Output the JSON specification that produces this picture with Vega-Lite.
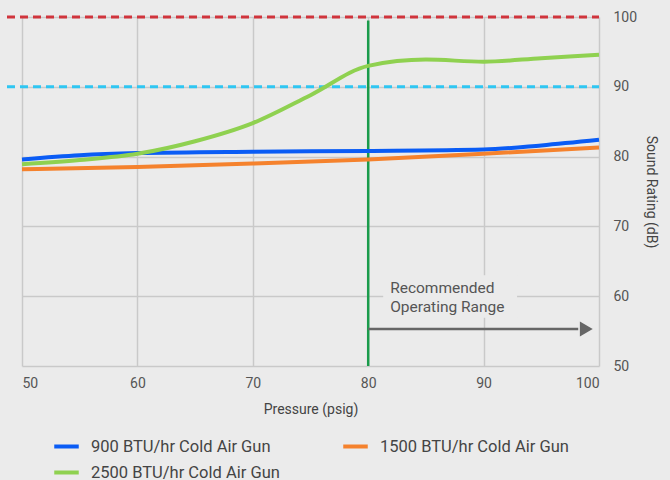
{
  "$schema": "https://vega.github.io/schema/vega-lite/v6.json",
  "width": 577,
  "height": 349,
  "autosize": "none",
  "padding": {"left": 22, "top": 17, "right": 71, "bottom": 114},
  "background": "#ebebeb",
  "config": {
    "view": {"stroke": null},
    "font": "Roboto",
    "axis": {"gridColor": "#c9c9c9", "gridWidth": 1.5, "domain": false, "ticks": false, "labelColor": "#555555", "labelFontSize": 14, "titleColor": "#444444", "titleFontSize": 14, "titleFontWeight": "normal"}
  },
  "datasets": {
    "curves": [
      {"p": 50, "db": 79.6, "s": "900 BTU/hr Cold Air Gun"},
      {"p": 55, "db": 80.2, "s": "900 BTU/hr Cold Air Gun"},
      {"p": 60, "db": 80.5, "s": "900 BTU/hr Cold Air Gun"},
      {"p": 70, "db": 80.7, "s": "900 BTU/hr Cold Air Gun"},
      {"p": 80, "db": 80.8, "s": "900 BTU/hr Cold Air Gun"},
      {"p": 90, "db": 81.0, "s": "900 BTU/hr Cold Air Gun"},
      {"p": 95, "db": 81.6, "s": "900 BTU/hr Cold Air Gun"},
      {"p": 100, "db": 82.4, "s": "900 BTU/hr Cold Air Gun"},
      {"p": 50, "db": 78.2, "s": "1500 BTU/hr Cold Air Gun"},
      {"p": 60, "db": 78.5, "s": "1500 BTU/hr Cold Air Gun"},
      {"p": 70, "db": 79.0, "s": "1500 BTU/hr Cold Air Gun"},
      {"p": 80, "db": 79.6, "s": "1500 BTU/hr Cold Air Gun"},
      {"p": 90, "db": 80.4, "s": "1500 BTU/hr Cold Air Gun"},
      {"p": 100, "db": 81.3, "s": "1500 BTU/hr Cold Air Gun"},
      {"p": 50, "db": 78.9, "s": "2500 BTU/hr Cold Air Gun"},
      {"p": 55, "db": 79.5, "s": "2500 BTU/hr Cold Air Gun"},
      {"p": 60, "db": 80.4, "s": "2500 BTU/hr Cold Air Gun"},
      {"p": 65, "db": 82.2, "s": "2500 BTU/hr Cold Air Gun"},
      {"p": 70, "db": 84.8, "s": "2500 BTU/hr Cold Air Gun"},
      {"p": 75, "db": 88.8, "s": "2500 BTU/hr Cold Air Gun"},
      {"p": 80, "db": 93.0, "s": "2500 BTU/hr Cold Air Gun"},
      {"p": 85, "db": 93.9, "s": "2500 BTU/hr Cold Air Gun"},
      {"p": 90, "db": 93.6, "s": "2500 BTU/hr Cold Air Gun"},
      {"p": 95, "db": 94.1, "s": "2500 BTU/hr Cold Air Gun"},
      {"p": 100, "db": 94.6, "s": "2500 BTU/hr Cold Air Gun"}
    ]
  },
  "layer": [
    {
      "data": {"values": [{"x1": 81.3, "x2": 92.9, "y1": 56.9, "y2": 63.0}]},
      "mark": {"type": "rect", "fill": "#ebebeb"},
      "encoding": {
        "x": {"field": "x1", "type": "quantitative", "scale": {"domain": [50, 100]}, "axis": {"values": [50, 60, 70, 80, 90, 100], "title": "Pressure (psig)", "labelPadding": 10, "titlePadding": 12}},
        "x2": {"field": "x2"},
        "y": {"field": "y1", "type": "quantitative", "scale": {"domain": [50, 100]}, "axis": {"orient": "right", "values": [50, 60, 70, 80, 90, 100], "title": "Sound Rating (dB)", "labelPadding": 14, "titlePadding": 7}},
        "y2": {"field": "y2"}
      }
    },
    {
      "data": {"values": [{"lvl": 100, "c": "red"}, {"lvl": 90, "c": "cyan"}]},
      "mark": {"type": "rule", "strokeWidth": 3, "strokeDash": [8, 5], "clip": false},
      "encoding": {
        "x": {"datum": 48.7, "type": "quantitative"},
        "x2": {"datum": 100},
        "y": {"field": "lvl", "type": "quantitative"},
        "color": {"field": "c", "type": "nominal", "scale": {"domain": ["red", "cyan"], "range": ["#d0343c", "#2fc6f2"]}, "legend": null}
      }
    },
    {
      "data": {"values": [{"x": 80, "y1": 99.5, "y2": 50}]},
      "mark": {"type": "rule", "color": "#1a9b4b", "strokeWidth": 2.5},
      "encoding": {
        "x": {"field": "x", "type": "quantitative"},
        "y": {"field": "y1", "type": "quantitative"},
        "y2": {"field": "y2"}
      }
    },
    {
      "data": {"values": [{"x1": 80, "x2": 98.2, "y": 55.3}]},
      "mark": {"type": "rule", "color": "#666666", "strokeWidth": 2.5},
      "encoding": {
        "x": {"field": "x1", "type": "quantitative"},
        "x2": {"field": "x2"},
        "y": {"field": "y", "type": "quantitative"}
      }
    },
    {
      "data": {"values": [{"x": 98.9, "y": 55.3}]},
      "mark": {"type": "point", "shape": "triangle-right", "filled": true, "color": "#666666", "size": 220, "opacity": 1},
      "encoding": {
        "x": {"field": "x", "type": "quantitative"},
        "y": {"field": "y", "type": "quantitative"}
      }
    },
    {
      "data": {"values": [{"x": 81.9, "y": 61.2, "t": "Recommended"}, {"x": 81.9, "y": 58.45, "t": "Operating Range"}]},
      "mark": {"type": "text", "align": "left", "baseline": "middle", "fontSize": 15.5, "color": "#555555"},
      "encoding": {
        "x": {"field": "x", "type": "quantitative"},
        "y": {"field": "y", "type": "quantitative"},
        "text": {"field": "t"}
      }
    },
    {
      "data": {"name": "curves"},
      "mark": {"type": "line", "strokeWidth": 4, "interpolate": "monotone"},
      "encoding": {
        "x": {"field": "p", "type": "quantitative"},
        "y": {"field": "db", "type": "quantitative"},
        "color": {
          "field": "s", "type": "nominal",
          "scale": {"domain": ["900 BTU/hr Cold Air Gun", "2500 BTU/hr Cold Air Gun", "1500 BTU/hr Cold Air Gun"], "range": ["#0a5cf5", "#8fd150", "#f5822d"]},
          "legend": {"title": null, "orient": "none", "legendX": 30, "legendY": 415, "columns": 2, "columnPadding": 55, "rowPadding": 3, "symbolType": "stroke", "symbolStrokeWidth": 4, "symbolSize": 600, "labelFontSize": 16.5, "labelLimit": 400, "labelColor": "#444444", "labelOffset": 10}
        }
      }
    }
  ],
  "resolve": {"scale": {"color": "independent"}}
}
